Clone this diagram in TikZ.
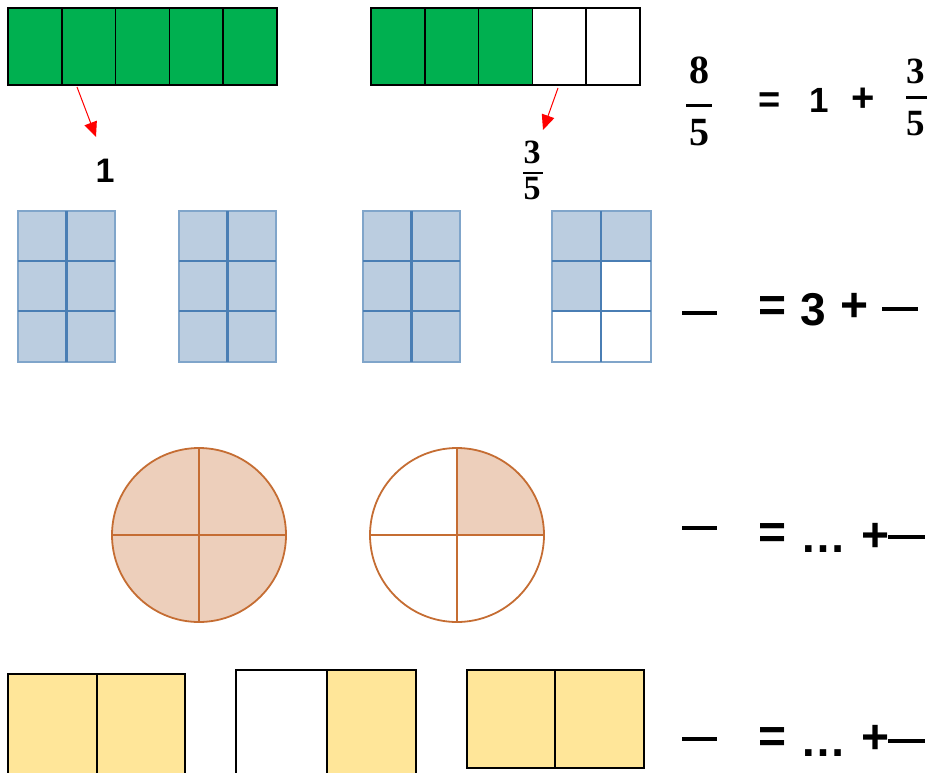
\documentclass[tikz,border=0pt]{standalone}
\usepackage{fontspec}
\setmainfont{Liberation Sans}
\newfontfamily\numfont{Liberation Serif}
\usetikzlibrary{arrows.meta}
\definecolor{barGreen}{RGB}{0,176,80}
\definecolor{gridFill}{RGB}{187,205,224}
\definecolor{gridLine}{RGB}{74,126,180}
\definecolor{pieFill}{RGB}{237,207,187}
\definecolor{pieLine}{RGB}{197,109,51}
\definecolor{halfFill}{RGB}{255,230,153}

\begin{document}
\begin{tikzpicture}[x=1pt,y=-1pt,
  eqbig/.style={font=\fontsize{46}{52}\selectfont\bfseries, inner sep=0pt},
  eqsign/.style={font=\fontsize{48}{54}\selectfont\bfseries, inner sep=0pt},
  eqmid/.style={font=\fontsize{34}{40}\selectfont\bfseries, inner sep=0pt},
  fracdigit/.style={font=\numfont\bfseries\fontsize{37}{42}\selectfont, inner sep=0pt, anchor=base},
  blank/.style={line width=3.5pt}]
\useasboundingbox (0,0) rectangle (931,772);

% green strips
\foreach \i in {0,...,4}
  \filldraw[fill=barGreen, line width=1.5pt] ({8+53.8*\i},8) rectangle ++(53.8,77);
\draw[line width=2.2pt] (8,8) rectangle (277,85);
\foreach \i in {0,1,2}
  \filldraw[fill=barGreen, line width=1.5pt] ({371+53.8*\i},8) rectangle ++(53.8,77);
\foreach \i in {3,4}
  \draw[line width=1.5pt] ({371+53.8*\i},8) rectangle ++(53.8,77);
\draw[line width=2.2pt] (371,8) rectangle (640,85);

\coordinate (arrA) at (77,87);
\coordinate (tipA) at (96,137);
\coordinate (arrB) at (558,88);
\coordinate (tipB) at (543,130);
\draw[red, line width=1pt, -{Triangle[length=15pt,width=13pt]}] (arrA) -- (tipA);
\draw[red, line width=1pt, -{Triangle[length=15pt,width=13pt]}] (arrB) -- (tipB);

\node[eqmid, anchor=base] (one) at (105,182) {1};
\node[fracdigit, font=\numfont\bfseries\fontsize{34}{40}\selectfont] (numB) at (532,163) {3};
\draw[line width=2.5pt] (523,173) -- (543,173);
\node[fracdigit, font=\numfont\bfseries\fontsize{34}{40}\selectfont] (denB) at (532,199) {5};

% first equation
\node[fracdigit, font=\numfont\bfseries\fontsize{40}{46}\selectfont] (eightN) at (699,83) {8};
\draw[line width=3pt] (686,105) -- (712,105);
\node[fracdigit, font=\numfont\bfseries\fontsize{40}{46}\selectfont] (fiveD) at (699,145) {5};
\node[eqmid, font=\fontsize{38}{44}\selectfont\bfseries] (eqA) at (769.5,102.5) {=};
\node[eqmid, anchor=base, font=\fontsize{35}{40}\selectfont\bfseries] (oneA) at (819.5,112) {1};
\node[eqmid, font=\fontsize{40}{46}\selectfont\bfseries] (plusA) at (863,100) {+};
\node[fracdigit] (threeN) at (916,83) {3};
\draw[line width=3pt] (906,97) -- (927,97);
\node[fracdigit] (fiveN) at (916,135) {5};

% blue grids
\foreach \gx in {18,179,363} {
  \fill[gridFill] (\gx,211) rectangle ++(97,151);
  \draw[gridLine!70, line width=1.5pt] (\gx,211) rectangle ++(97,151);
  \draw[gridLine, line width=2.5pt] ({\gx+48.5},211) -- ++(0,151)
    (\gx,261) -- ++(97,0) (\gx,311) -- ++(97,0);
}
\fill[gridFill] (552,211) rectangle (651,261);
\fill[gridFill] (552,261) rectangle (601,311);
\draw[gridLine!70, line width=1.5pt] (552,211) rectangle (651,362);
\draw[gridLine, line width=2.5pt] (601,211) -- (601,362)
  (552,261) -- (651,261) (552,311) -- (651,311);

\draw[blank] (682,313) -- (717,313);
\node[eqsign] (eqB) at (772.5,309) {=};
\node[eqbig, anchor=base] (three) at (813.5,325) {3};
\node[eqsign] (plusB) at (854.5,307.5) {+};
\draw[blank] (882,309) -- (918,309);

% circles
\coordinate (cirA) at (199,535);
\coordinate (cirB) at (457,535);
\filldraw[fill=pieFill, draw=pieLine, line width=1.8pt] (cirA) circle[radius=87pt];
\draw[pieLine, line width=2pt] ([yshift=87pt]cirA) -- ([yshift=-87pt]cirA)
  ([xshift=-87pt]cirA) -- ([xshift=87pt]cirA);
\fill[pieFill] (cirB) -- ++(87,0) arc[start angle=0, end angle=90, radius=87pt] -- cycle;
\draw[pieLine, line width=1.8pt] (cirB) circle[radius=87pt];
\draw[pieLine, line width=2pt] ([yshift=87pt]cirB) -- ([yshift=-87pt]cirB)
  ([xshift=-87pt]cirB) -- ([xshift=87pt]cirB);

\draw[blank] (682,528) -- (717,528);
\node[eqsign] (eqC) at (772.5,536) {=};
\node[eqbig, anchor=base] (dotsC) at (823,552) {…};
\node[eqsign] (plusC) at (875.5,537.5) {+};
\draw[blank] (888,537) -- (925,537);

% yellow halves
\filldraw[fill=halfFill, line width=2.5pt] (8,674) rectangle (185,776);
\draw[line width=2pt] (96.5,674) -- (96.5,776);
\fill[halfFill] (327,670) rectangle (416,776);
\draw[line width=2.5pt] (236,776) -- (236,670) -- (416,670) -- (416,776);
\draw[line width=2pt] (327,670) -- (327,776);
\filldraw[fill=halfFill, line width=2.5pt] (467,670) rectangle (644,768);
\draw[line width=2pt] (555,670) -- (555,768);

\draw[blank] (682,739) -- (717,739);
\node[eqsign] (eqD) at (772.5,740) {=};
\node[eqbig, anchor=base] (dotsD) at (823.5,756) {…};
\node[eqsign] (plusD) at (875.5,739) {+};
\draw[blank] (888,741) -- (925,741);
\end{tikzpicture}
\end{document}
